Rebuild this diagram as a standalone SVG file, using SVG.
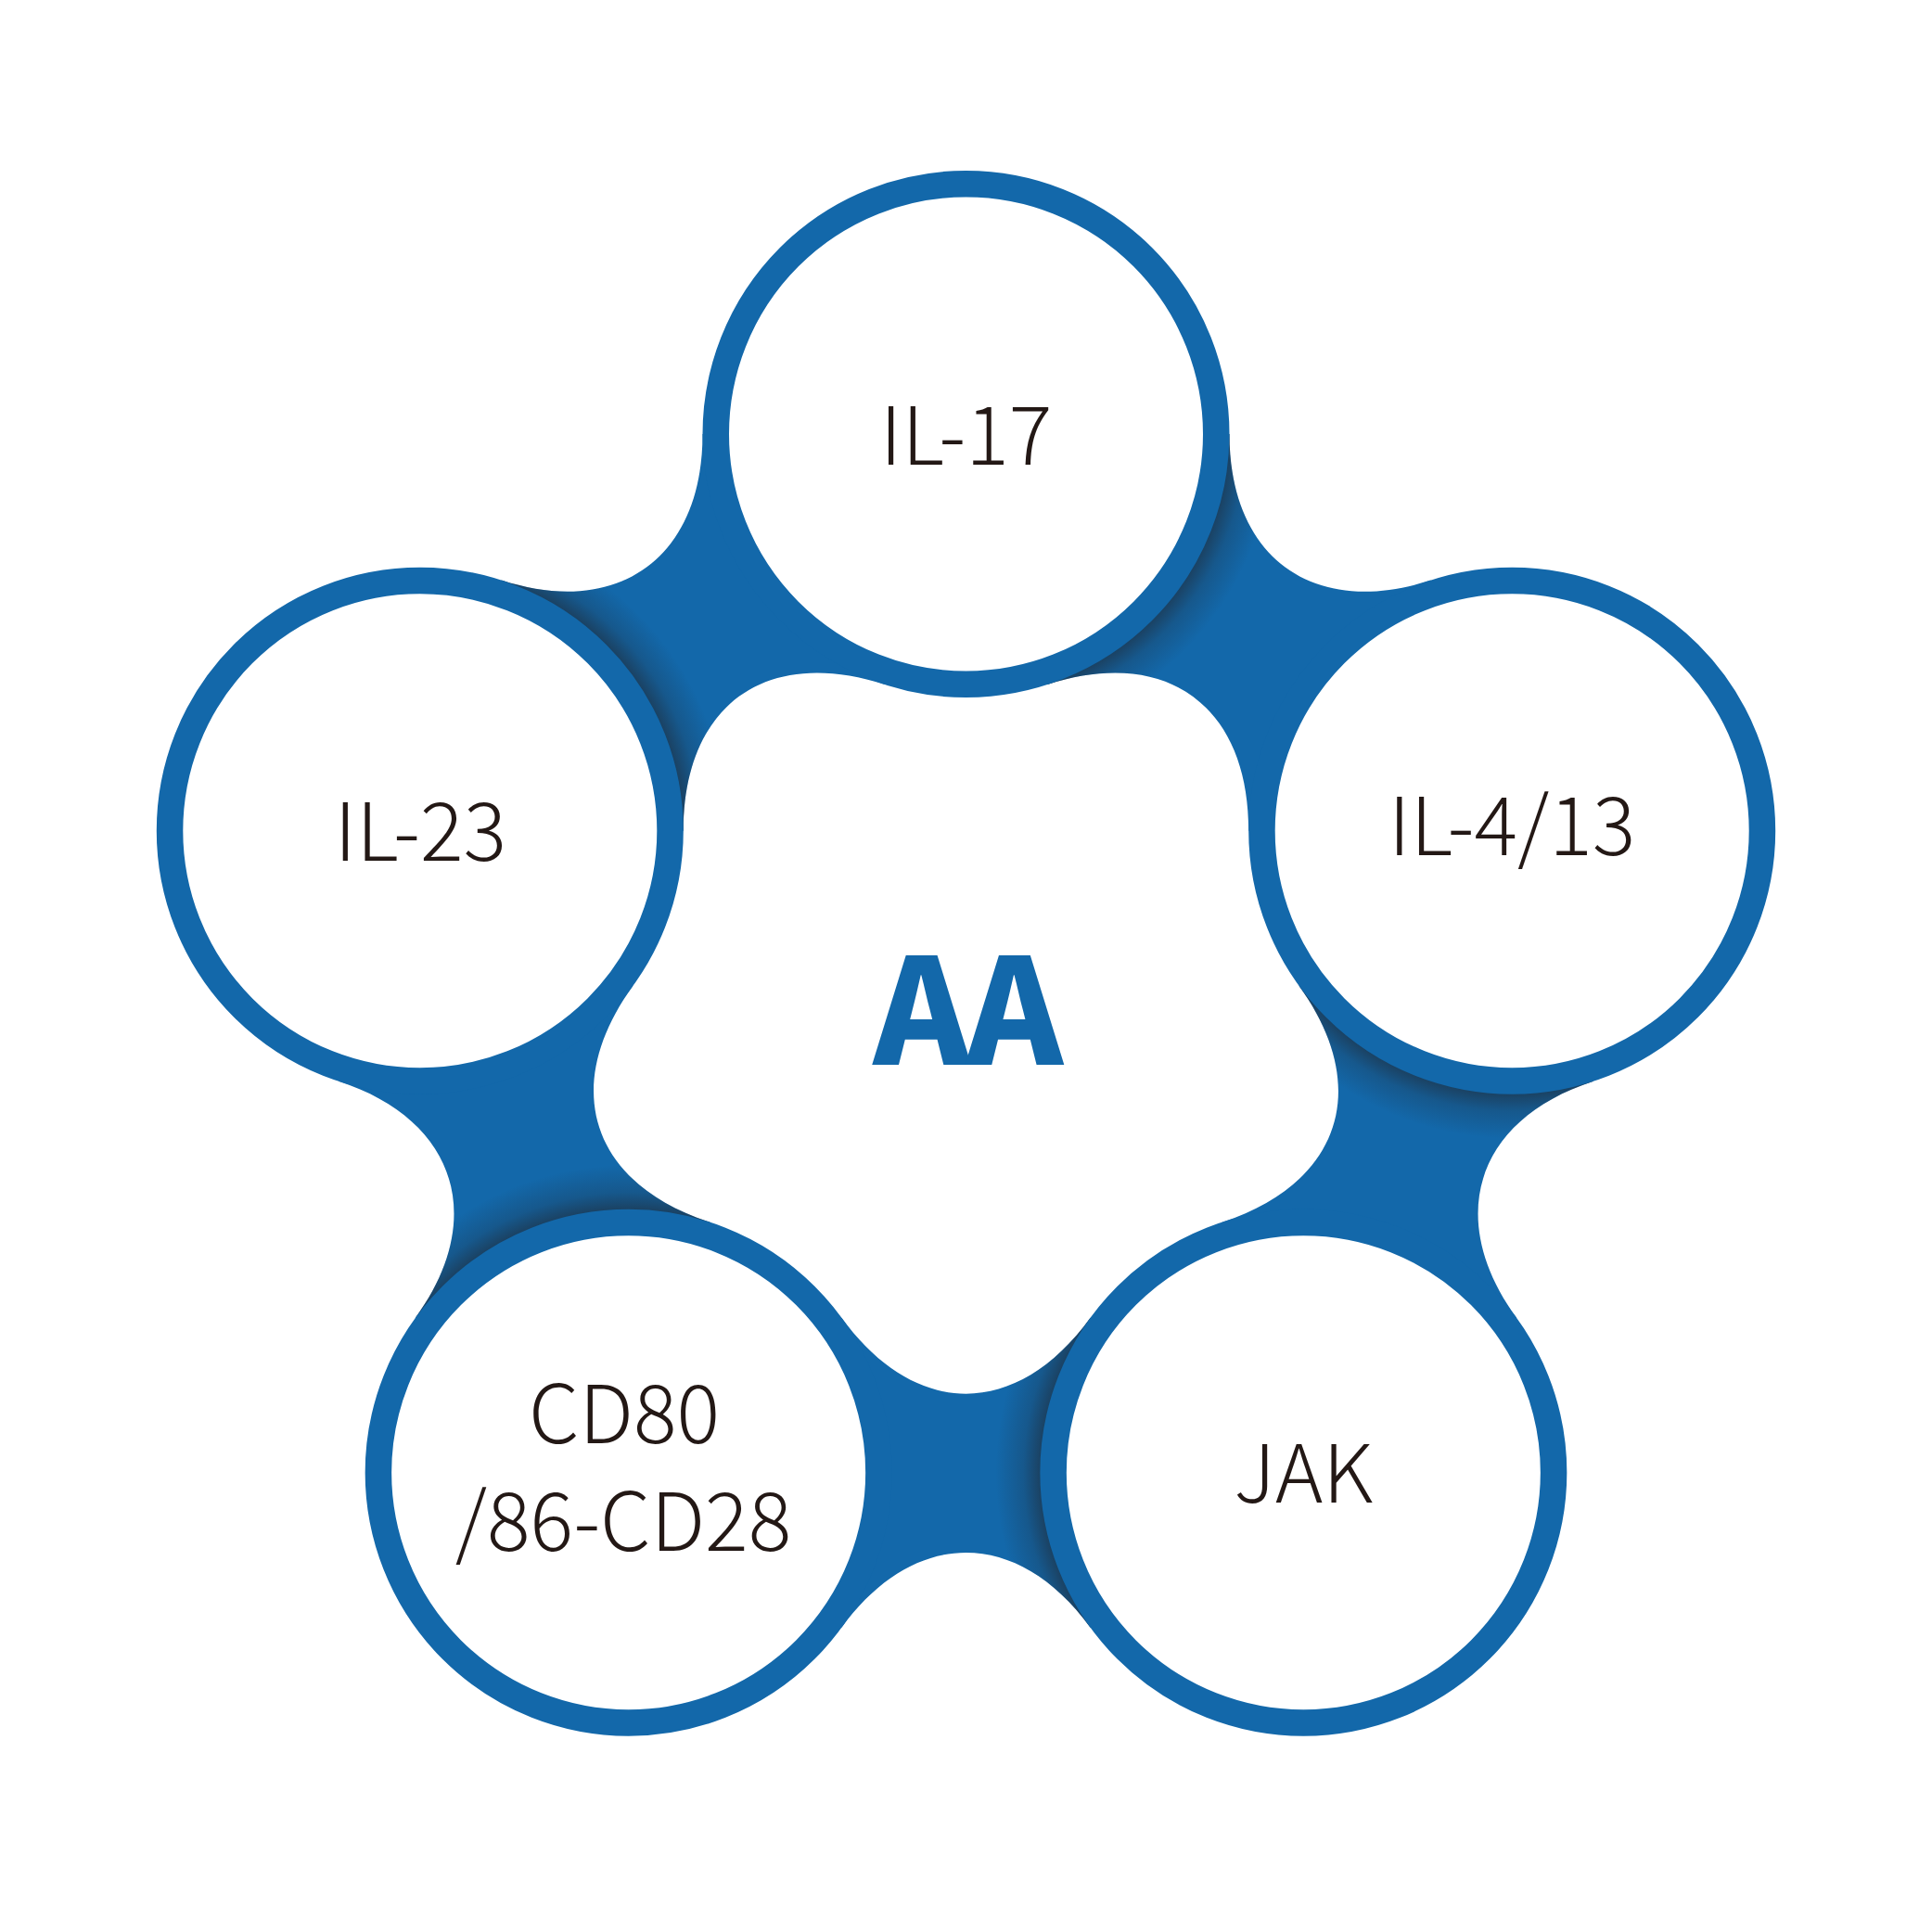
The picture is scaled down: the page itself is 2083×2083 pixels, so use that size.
<svg xmlns="http://www.w3.org/2000/svg" width="2083" height="2083" viewBox="0 0 2083 2083">
<defs>
<style>
.blue{fill:#1368aa}
.ring{fill:#fff;stroke:#1368aa;stroke-width:28.5}
.lbl{font-family:"Noto Sans CJK SC Light","Noto Sans CJK SC","Noto Sans",sans-serif;font-weight:300;font-size:87px;fill:#231815;text-anchor:middle}
.big{font-family:"Noto Sans CJK SC Black","Noto Sans CJK SC","Noto Sans",sans-serif;font-weight:900;font-size:158px;fill:#1368aa;text-anchor:middle}
</style>
<radialGradient id="sh" cx="0.5" cy="0.5" r="0.5">
<stop offset="0" stop-color="#231815" stop-opacity="0"/>
<stop offset="0.85" stop-color="#231815" stop-opacity="0.5"/>
<stop offset="0.91" stop-color="#231815" stop-opacity="0.2"/>
<stop offset="1" stop-color="#231815" stop-opacity="0"/>
</radialGradient>
<path id="webP" d="M1175.58,1420.85 C1096.29,1529.98 986.71,1529.98 907.42,1420.85 L677.66,1587.78 L907.42,1754.71 C985.6,1647.11 1097.4,1647.11 1175.58,1754.71 L1405.34,1587.78 Z"/>
<clipPath id="webClip"><use href="#webP"/></clipPath>
<g id="webG">
<use href="#webP" class="blue"/>
<circle fill="url(#sh)" cx="1405.34" cy="1587.78" r="332" clip-path="url(#webClip)"/>
</g>
</defs>
<rect width="2083" height="2083" fill="#fff"/>
<g id="connectors">
<use href="#webG" transform="rotate(-144 1041.5 1087)"/>
<use href="#webG" transform="rotate(-72 1041.5 1087)"/>
<use href="#webG"/>
<use href="#webG" transform="rotate(72 1041.5 1087)"/>
<use href="#webG" transform="rotate(144 1041.5 1087)"/>
</g>
<g id="center">
<text class="big" x="1041.7" y="1147.7" letter-spacing="-4">AA</text>
</g>
<g id="node-il17">
<circle class="ring" cx="1041.5" cy="468" r="269.75"/>
<text class="lbl" x="1041.5" y="501">IL-17</text>
</g>
<g id="node-il413">
<circle class="ring" cx="1630.2" cy="895.72" r="269.75"/>
<text class="lbl" x="1630.2" y="921.5">IL-4/13</text>
</g>
<g id="node-jak">
<circle class="ring" cx="1405.34" cy="1587.78" r="269.75"/>
<text class="lbl" x="1405.34" y="1619.6">JAK</text>
</g>
<g id="node-cd80">
<circle class="ring" cx="677.66" cy="1587.78" r="269.75"/>
<text class="lbl" x="673" y="1555.6">CD80</text>
<text class="lbl" x="672" y="1672">/86-CD28</text>
</g>
<g id="node-il23">
<circle class="ring" cx="452.8" cy="895.72" r="269.75"/>
<text class="lbl" x="453.3" y="928">IL-23</text>
</g>
</svg>
